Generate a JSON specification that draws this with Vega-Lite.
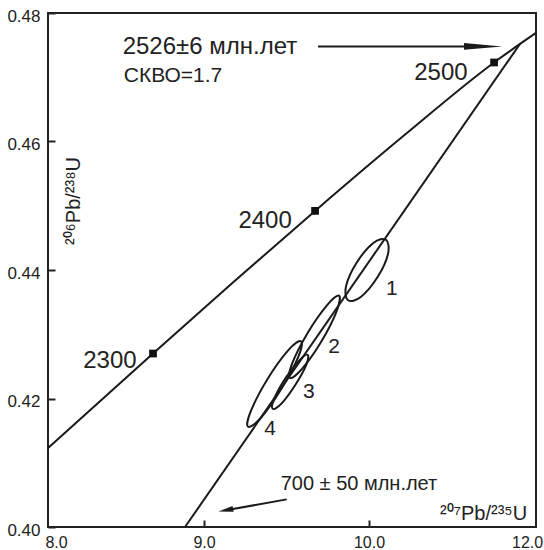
{
  "$schema": "https://vega.github.io/schema/vega-lite/v6.json",
  "width": 488,
  "height": 514,
  "autosize": {"type": "none"},
  "padding": {"left": 48, "top": 13, "right": 8, "bottom": 23},
  "background": "white",
  "config": {
    "view": {"stroke": "#222", "strokeWidth": 2},
    "font": "Liberation Sans",
    "axis": {"grid": false, "domain": false, "title": null, "labelColor": "#222", "tickColor": "#222", "tickWidth": 2, "labelFont": "Liberation Sans"}
  },
  "datasets": {
    "lines": [
      {"id": "concordia", "seq": 1, "x": 8.0545, "y": 0.4123},
      {"id": "concordia", "seq": 2, "x": 8.691, "y": 0.4270},
      {"id": "concordia", "seq": 3, "x": 9.182, "y": 0.4382},
      {"id": "concordia", "seq": 4, "x": 9.673, "y": 0.4492},
      {"id": "concordia", "seq": 5, "x": 10.215, "y": 0.4610},
      {"id": "concordia", "seq": 6, "x": 10.758, "y": 0.4723},
      {"id": "concordia", "seq": 7, "x": 11.012, "y": 0.4769},
      {"id": "discordia", "seq": 1, "x": 8.885, "y": 0.40},
      {"id": "discordia", "seq": 2, "x": 10.915, "y": 0.4752}
    ],
    "ellipses": [
      {"id": 1, "seq": 1, "x": 10.103, "y": 0.4447},
      {"id": 1, "seq": 2, "x": 10.115, "y": 0.4425},
      {"id": 1, "seq": 3, "x": 10.052, "y": 0.4389},
      {"id": 1, "seq": 4, "x": 9.950, "y": 0.4358},
      {"id": 1, "seq": 5, "x": 9.873, "y": 0.4353},
      {"id": 1, "seq": 6, "x": 9.861, "y": 0.4375},
      {"id": 1, "seq": 7, "x": 9.924, "y": 0.4411},
      {"id": 1, "seq": 8, "x": 10.026, "y": 0.4442},
      {"id": 2, "seq": 1, "x": 9.818, "y": 0.4360},
      {"id": 2, "seq": 2, "x": 9.804, "y": 0.4336},
      {"id": 2, "seq": 3, "x": 9.712, "y": 0.4289},
      {"id": 2, "seq": 4, "x": 9.594, "y": 0.4246},
      {"id": 2, "seq": 5, "x": 9.521, "y": 0.4232},
      {"id": 2, "seq": 6, "x": 9.535, "y": 0.4255},
      {"id": 2, "seq": 7, "x": 9.628, "y": 0.4302},
      {"id": 2, "seq": 8, "x": 9.745, "y": 0.4345},
      {"id": 3, "seq": 1, "x": 9.628, "y": 0.4268},
      {"id": 3, "seq": 2, "x": 9.619, "y": 0.4252},
      {"id": 3, "seq": 3, "x": 9.553, "y": 0.4221},
      {"id": 3, "seq": 4, "x": 9.469, "y": 0.4192},
      {"id": 3, "seq": 5, "x": 9.416, "y": 0.4184},
      {"id": 3, "seq": 6, "x": 9.426, "y": 0.4200},
      {"id": 3, "seq": 7, "x": 9.492, "y": 0.4231},
      {"id": 3, "seq": 8, "x": 9.576, "y": 0.4259},
      {"id": 4, "seq": 1, "x": 9.588, "y": 0.4289},
      {"id": 4, "seq": 2, "x": 9.572, "y": 0.4265},
      {"id": 4, "seq": 3, "x": 9.471, "y": 0.4216},
      {"id": 4, "seq": 4, "x": 9.345, "y": 0.4170},
      {"id": 4, "seq": 5, "x": 9.267, "y": 0.4156},
      {"id": 4, "seq": 6, "x": 9.283, "y": 0.4180},
      {"id": 4, "seq": 7, "x": 9.384, "y": 0.4230},
      {"id": 4, "seq": 8, "x": 9.510, "y": 0.4275}
    ],
    "ages": [
      {"age": 2300, "x": 8.691, "y": 0.4270, "lx": 8.430, "ly": 0.42475},
      {"age": 2400, "x": 9.673, "y": 0.4492, "lx": 9.370, "ly": 0.44654},
      {"age": 2500, "x": 10.758, "y": 0.4723, "lx": 10.436, "ly": 0.46957}
    ],
    "arrows": [
      {"id": "upper", "x": 9.691, "y": 0.4748, "x2": 10.70, "y2": 0.4748, "tx": 10.806, "ty": 0.4748},
      {"id": "lower", "x": 9.501, "y": 0.4043, "x2": 9.133, "y2": 0.4026, "tx": 9.087, "ty": 0.4024}
    ],
    "notes": [
      {"kind": "age", "text": "2526±6 млн.лет", "x": 9.036, "y": 0.47362},
      {"kind": "mswd", "text": "СКВО=1.7", "x": 8.812, "y": 0.46926},
      {"kind": "lower", "text": "700 ± 50 млн.лет", "x": 9.939, "y": 0.40576},
      {"kind": "spot", "text": "1", "x": 10.139, "y": 0.43611},
      {"kind": "spot", "text": "2", "x": 9.788, "y": 0.42708},
      {"kind": "spot", "text": "3", "x": 9.636, "y": 0.42008},
      {"kind": "spot", "text": "4", "x": 9.400, "y": 0.41432},
      {"kind": "xtitle", "text": "²⁰⁷Pb/²³⁵U", "x": 10.958, "y": 0.40109},
      {"kind": "ytitle", "text": "²⁰⁶Pb/²³⁸U", "x": 8.2485, "y": 0.45074}
    ]
  },
  "layer": [
    {
      "data": {"name": "lines"},
      "mark": {"type": "line", "interpolate": "monotone", "color": "#1a1a1a", "strokeWidth": 2},
      "encoding": {
        "x": {"field": "x", "type": "quantitative", "scale": {"domain": [8.0545, 11.012], "nice": false, "zero": false},
          "axis": {"values": [8.103, 9, 10, 10.958], "labelExpr": "datum.value < 8.5 ? '8.0' : (datum.value > 10.5 ? '12.0' : format(datum.value, '.1f'))",
            "tickOpacity": {"condition": {"test": "datum.value > 8.5 && datum.value < 10.5", "value": 1}, "value": 0},
            "tickSize": -7, "labelPadding": 14, "labelFontSize": 16, "labelFlush": false}},
        "y": {"field": "y", "type": "quantitative", "scale": {"domain": [0.40, 0.48], "nice": false, "zero": false},
          "axis": {"values": [0.40, 0.42, 0.44, 0.46, 0.48], "format": ".2f", "tickSize": -7, "labelPadding": 15, "labelFontSize": 17, "labelOffset": 3}},
        "detail": {"field": "id"},
        "order": {"field": "seq"}
      }
    },
    {
      "data": {"name": "ellipses"},
      "mark": {"type": "line", "interpolate": "cardinal-closed", "color": "#1a1a1a", "strokeWidth": 2},
      "encoding": {
        "x": {"field": "x", "type": "quantitative"},
        "y": {"field": "y", "type": "quantitative"},
        "detail": {"field": "id"},
        "order": {"field": "seq"}
      }
    },
    {
      "data": {"name": "ages"},
      "mark": {"type": "point", "shape": "square", "filled": true, "size": 60, "color": "#111", "opacity": 1},
      "encoding": {
        "x": {"field": "x", "type": "quantitative"},
        "y": {"field": "y", "type": "quantitative"}
      }
    },
    {
      "data": {"name": "ages"},
      "mark": {"type": "text", "fontSize": 24, "color": "#222", "align": "center", "baseline": "alphabetic"},
      "encoding": {
        "x": {"field": "lx", "type": "quantitative"},
        "y": {"field": "ly", "type": "quantitative"},
        "text": {"field": "age"}
      }
    },
    {
      "data": {"name": "arrows"},
      "mark": {"type": "rule", "color": "#1a1a1a", "strokeWidth": 2},
      "encoding": {
        "x": {"field": "x", "type": "quantitative"},
        "y": {"field": "y", "type": "quantitative"},
        "x2": {"field": "x2"},
        "y2": {"field": "y2"}
      }
    },
    {
      "data": {"name": "arrows"},
      "transform": [{"filter": "datum.id == 'upper'"}],
      "mark": {"type": "point", "shape": "M0,0 L-2,-0.18 L-2,0.18 Z", "filled": true, "size": 1444, "color": "#1a1a1a", "opacity": 1},
      "encoding": {
        "x": {"field": "tx", "type": "quantitative"},
        "y": {"field": "ty", "type": "quantitative"}
      }
    },
    {
      "data": {"name": "arrows"},
      "transform": [{"filter": "datum.id == 'lower'"}],
      "mark": {"type": "point", "shape": "M0,0 L-2,-0.4 L-2,0.4 Z", "filled": true, "size": 225, "angle": 169.7, "color": "#1a1a1a", "opacity": 1},
      "encoding": {
        "x": {"field": "tx", "type": "quantitative"},
        "y": {"field": "ty", "type": "quantitative"}
      }
    },
    {
      "data": {"name": "notes"},
      "transform": [{"filter": "datum.kind == 'age'"}],
      "mark": {"type": "text", "fontSize": 24, "color": "#222", "align": "center", "baseline": "alphabetic"},
      "encoding": {"x": {"field": "x", "type": "quantitative"}, "y": {"field": "y", "type": "quantitative"}, "text": {"field": "text"}}
    },
    {
      "data": {"name": "notes"},
      "transform": [{"filter": "datum.kind == 'mswd' || datum.kind == 'spot'"}],
      "mark": {"type": "text", "fontSize": 21, "color": "#222", "align": "center", "baseline": "alphabetic"},
      "encoding": {"x": {"field": "x", "type": "quantitative"}, "y": {"field": "y", "type": "quantitative"}, "text": {"field": "text"}}
    },
    {
      "data": {"name": "notes"},
      "transform": [{"filter": "datum.kind == 'lower'"}],
      "mark": {"type": "text", "fontSize": 20, "color": "#222", "align": "center", "baseline": "alphabetic"},
      "encoding": {"x": {"field": "x", "type": "quantitative"}, "y": {"field": "y", "type": "quantitative"}, "text": {"field": "text"}}
    },
    {
      "data": {"name": "notes"},
      "transform": [{"filter": "datum.kind == 'xtitle'"}],
      "mark": {"type": "text", "fontSize": 20, "color": "#222", "align": "right", "baseline": "alphabetic"},
      "encoding": {"x": {"field": "x", "type": "quantitative"}, "y": {"field": "y", "type": "quantitative"}, "text": {"field": "text"}}
    },
    {
      "data": {"name": "notes"},
      "transform": [{"filter": "datum.kind == 'ytitle'"}],
      "mark": {"type": "text", "fontSize": 20, "color": "#222", "align": "center", "baseline": "alphabetic", "angle": 270},
      "encoding": {"x": {"field": "x", "type": "quantitative"}, "y": {"field": "y", "type": "quantitative"}, "text": {"field": "text"}}
    }
  ]
}
